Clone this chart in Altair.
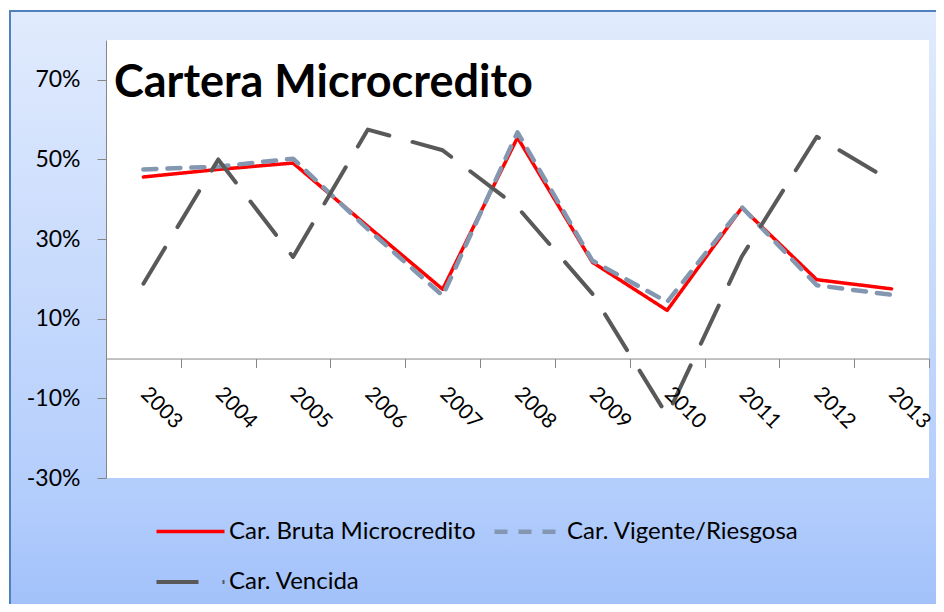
import altair as alt
import pandas as pd

years = [str(y) for y in range(2003, 2014)]
series_names = ["Car. Bruta Microcredito", "Car. Vigente/Riesgosa", "Car. Vencida"]
# legend is filled column by column: this order gives row 1 = Bruta, Vigente; row 2 = Vencida
legend_order = ["Car. Bruta Microcredito", "Car. Vencida", "Car. Vigente/Riesgosa"]
bruta = [0.456, 0.475, 0.491, 0.332, 0.174, 0.555, 0.242, 0.121, 0.379, 0.198, 0.175]
vigente = [0.475, 0.482, 0.502, 0.325, 0.158, 0.568, 0.246, 0.142, 0.380, 0.184, 0.160]
vencida = [0.188, 0.500, 0.255, 0.575, 0.523, 0.380, 0.163, -0.143, 0.257, 0.557, 0.445]
y_ticks = [-0.3, -0.1, 0.1, 0.3, 0.5, 0.7]
title_text = "Cartera Microcredito"

style = {
    "Car. Bruta Microcredito": ("#ff0000", [1, 0], 3.5),
    "Car. Vigente/Riesgosa": ("#8497b0", [13, 11], 4.8),
    "Car. Vencida": ("#595959", [42, 24], 4.5),
}
colors = [style[s][0] for s in legend_order]
dashes = [style[s][1] for s in legend_order]
widths = [style[s][2] for s in legend_order]

rows = []
for name, vals in zip(series_names, [bruta, vigente, vencida]):
    for yr, v in zip(years, vals):
        rows.append({"Año": yr, "Serie": name, "Valor": v})
df = pd.DataFrame(rows)

W, H = 823, 438
FONT = "Lato"

one = alt.Data(values=[{}])

bg = alt.Chart(one).mark_rect(
    fill=alt.LinearGradient(
        gradient="linear",
        stops=[alt.GradientStop(color="#e1ebfd", offset=0),
               alt.GradientStop(color="#b3cdfc", offset=0.8),
               alt.GradientStop(color="#a0c0fa", offset=1)],
        x1=0, x2=0, y1=0, y2=1),
    stroke="#4f81bd", strokeWidth=2,
).encode(x=alt.value(-96), x2=alt.value(W + 60), y=alt.value(-29), y2=alt.value(H + 140))

plot_bg = alt.Chart(one).mark_rect(fill="white").encode(
    x=alt.value(0), x2=alt.value(W), y=alt.value(0), y2=alt.value(H))

lines = alt.Chart(df).mark_line(strokeCap="round", strokeJoin="round").encode(
    x=alt.X("Año:N", sort=years, bandPosition=0.5,
            scale=alt.Scale(type="band", paddingInner=0, paddingOuter=0),
            axis=alt.Axis(title=None, labelAngle=45, labelAlign="left", labelBaseline="middle",
                          labelFontSize=21, labelFont=FONT, labelColor="black",
                          tickBand="extent", tickSize=9, tickColor="#868686",
                          domainColor="#868686", offset=-(H * 0.3 / 1.1),
                          labelPadding=23, grid=False, zindex=1, labelBound=False)),
    y=alt.Y("Valor:Q", scale=alt.Scale(domain=[-0.3, 0.8], nice=False, zero=False),
            axis=alt.Axis(title=None, values=y_ticks,
                          labelExpr="round(datum.value*100) + '%'",
                          labelFontSize=23, labelFont=FONT, labelColor="black",
                          tickSize=9, tickColor="#868686", domainColor="#868686",
                          labelPadding=17, grid=False, zindex=1)),
    color=alt.Color("Serie:N",
                    scale=alt.Scale(domain=legend_order, range=colors),
                    legend=alt.Legend(title=None, orient="none", legendX=48, legendY=479,
                                      columns=2, columnPadding=9, rowPadding=26,
                                      padding=0, labelLimit=0,
                                      symbolType="M-3.4,0H3.4", symbolSize=400,
                                      symbolOffset=24, labelOffset=26,
                                      labelFontSize=24, labelFont=FONT, labelColor="black")),
    strokeDash=alt.StrokeDash("Serie:N",
                              scale=alt.Scale(domain=legend_order, range=dashes)),
    strokeWidth=alt.StrokeWidth("Serie:N",
                                scale=alt.Scale(domain=legend_order, range=widths)),
)

title = alt.Chart(one).mark_text(
    text=title_text, font=FONT, fontSize=45, fontWeight="bold", color="black",
    align="left", baseline="alphabetic",
).encode(x=alt.value(8), y=alt.value(57))

chart = alt.layer(bg, plot_bg, lines, title).properties(
    width=W, height=H,
    autosize=alt.AutoSizeParams(type="none"),
    padding={"left": 98, "top": 32, "right": 7, "bottom": 126},
).configure_view(stroke=None).configure(font=FONT)

chart.save("out.html", embed_options={"renderer": "svg", "actions": False})
